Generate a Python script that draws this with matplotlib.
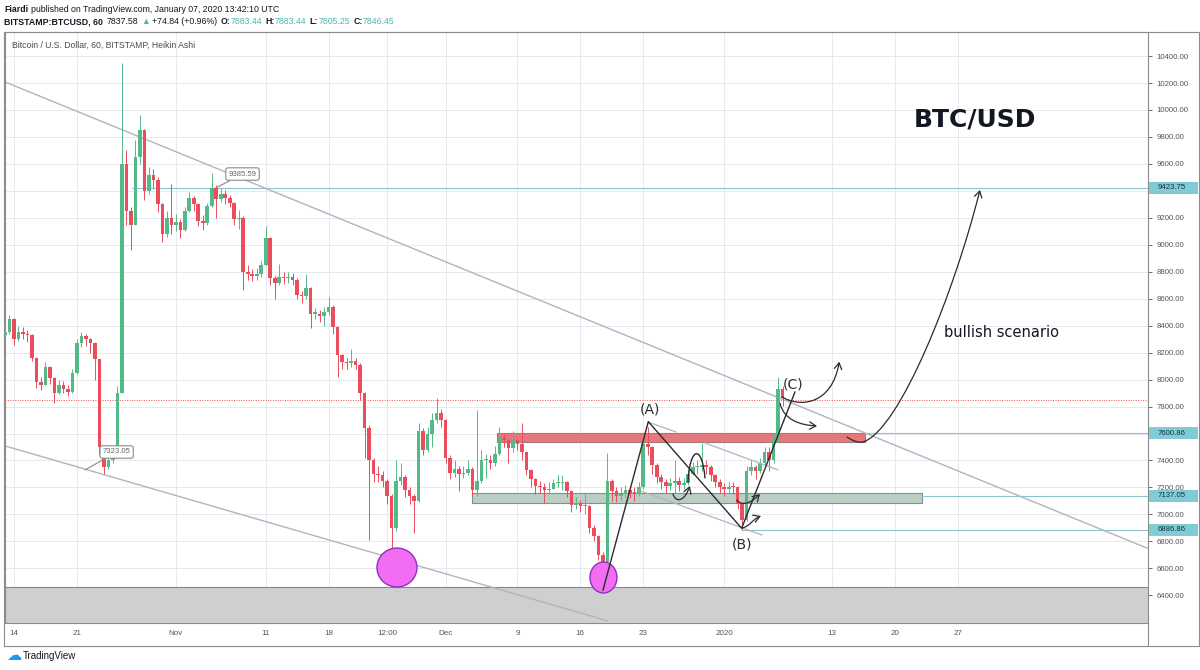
import numpy as np
import pandas as pd
import matplotlib.pyplot as plt
import matplotlib.transforms as mtransforms
from matplotlib.patches import Rectangle, Ellipse, FancyArrowPatch
from matplotlib.path import Path
from matplotlib.lines import Line2D

plt.rcParams['font.family'] = ['Liberation Sans', 'DejaVu Sans']

start = '2019-10-13'
first_open = 8330
closes = [
    8350, 8450, 8300, 8350, 8340, 8330, 8160, 7980, 7960, 8090,
    8010, 7900, 7960, 7930, 7910, 8050, 8270, 8320, 8300, 8270,
    8150, 7500, 7350, 7400, 7430, 7900, 9600, 9250, 9150, 9650,
    9850, 9400, 9520, 9480, 9300, 9080, 9200, 9150, 9170, 9110,
    9250, 9350, 9300, 9180, 9160, 9290, 9420, 9340, 9380, 9350,
    9310, 9190, 9200, 8800, 8780, 8770, 8780, 8850, 9050, 8750,
    8720, 8760, 8750, 8760, 8740, 8630, 8620, 8680, 8490, 8490,
    8470, 8500, 8540, 8390, 8180, 8130, 8120, 8140, 8110, 7900,
    7640, 7400, 7300, 7290, 7250, 7140, 6900, 7250, 7280, 7180,
    7140, 7100, 7620, 7480, 7600, 7700, 7750, 7700, 7420, 7310,
    7340, 7300, 7310, 7340, 7180, 7250, 7400, 7400, 7380, 7450,
    7570, 7550, 7490, 7550, 7520, 7460, 7330, 7260, 7210, 7206,
    7180, 7190, 7230, 7235, 7240, 7170, 7070, 7083, 7060, 7060,
    6900, 6840, 6700, 6650, 7250, 7170, 7140, 7155, 7180, 7160,
    7155, 7200, 7520, 7500, 7370, 7280, 7240, 7210, 7230, 7250,
    7220, 7230, 7300, 7350, 7350, 7370, 7355, 7290, 7240, 7205,
    7185, 7205, 7200, 7080, 6960, 7320, 7350, 7320, 7380, 7460,
    7400, 7550, 7930, 7860,
]
highs = [
    8420, 8480, 8460, 8400, 8390, 8370, 8340, 8170, 8020, 8130,
    8100, 8020, 8000, 7990, 7960, 8080, 8300, 8350, 8340, 8310,
    8280, 8150, 7500, 7440, 7480, 7950, 10350, 9700, 9280, 9780,
    9960, 9860, 9580, 9560, 9500, 9310, 9250, 9450, 9230, 9190,
    9280, 9390, 9360, 9310, 9220, 9310, 9530, 9440, 9420, 9410,
    9370, 9320, 9260, 9210, 8850, 8820, 8830, 8880, 9140, 9060,
    8770, 8860, 8800, 8800, 8790, 8750, 8660, 8780, 8690, 8530,
    8520, 8540, 8610, 8550, 8400, 8190, 8160, 8230, 8160, 8120,
    7910, 7660, 7420, 7360, 7320, 7260, 7150, 7400, 7380, 7290,
    7200, 7150, 7680, 7640, 7650, 7750, 7863, 7780, 7710, 7440,
    7400, 7360, 7360, 7400, 7350, 7775, 7480, 7450, 7440, 7510,
    7650, 7600, 7560, 7620, 7570, 7680, 7470, 7340, 7270, 7250,
    7230, 7240, 7260, 7290, 7290, 7250, 7180, 7130, 7110, 7160,
    7070, 6920, 6850, 6720, 7456, 7260, 7200, 7200, 7220, 7210,
    7200, 7240, 7560, 7650, 7510, 7380, 7300, 7260, 7270, 7400,
    7280, 7270, 7340, 7390, 7400, 7530, 7400, 7370, 7300, 7260,
    7230, 7240, 7240, 7210, 7090, 7360, 7400, 7370, 7420, 7500,
    7500, 7600, 8020, 7950,
]
lows = [
    8300, 8340, 8260, 8290, 8300, 8280, 8140, 7940, 7920, 7960,
    7970, 7830, 7890, 7900, 7880, 7900, 8040, 8240, 8250, 8200,
    8000, 7450, 7300, 7340, 7380, 7420, 7900, 9150, 8960, 9150,
    9600, 9330, 9380, 9420, 9240, 9020, 9060, 9080, 9100, 9050,
    9100, 9240, 9250, 9140, 9110, 9150, 9280, 9200, 9320, 9300,
    9280, 9150, 9120, 8665, 8740, 8730, 8740, 8760, 8840, 8700,
    8600, 8700, 8710, 8720, 8700, 8600, 8570, 8600, 8380, 8450,
    8430, 8400, 8480, 8340, 8020, 8080, 8080, 8090, 8080, 7850,
    7420, 6810, 7240, 7240, 7200, 7080, 6528, 6880, 7220, 7130,
    7080, 6860, 7090, 7440, 7460, 7500, 7680, 7650, 7380, 7260,
    7280, 7170, 7270, 7290, 7140, 7140, 7230, 7270, 7340, 7360,
    7440, 7500, 7380, 7460, 7480, 7400, 7290, 7200, 7150, 7160,
    7083, 7150, 7190, 7200, 7180, 7130, 7020, 7040, 7020, 7000,
    6860, 6800, 6660, 6460, 6650, 7100, 7090, 7110, 7130, 7120,
    7100, 7140, 7190, 7440, 7300, 7230, 7190, 7160, 7180, 7160,
    7170, 7190, 7220, 7290, 7300, 7320, 7300, 7250, 7200, 7160,
    7140, 7160, 7150, 7040, 6887, 6950, 7290, 7260, 7310, 7370,
    7320, 7380, 7540, 7805,
]
last_price = 7846.45

tick_dates = ['2019-10-14', '2019-10-21', '2019-11-01', '2019-11-11', '2019-11-18',
              '2019-11-24 12:00', '2019-12-01', '2019-12-09', '2019-12-16',
              '2019-12-23', '2020-01-01', '2020-01-13', '2020-01-20', '2020-01-27']
tick_labels = ['14', '21', 'Nov', '11', '18', '12:00', 'Dec', '9', '16', '23',
               '2020', '13', '20', '27']

# horizontal price levels marked on the right scale
level_prices = [9423.75, 7600.86, 7137.05, 6886.86]
level_from = [13.1, 94.7, 101.0, 81.0]   # days after Oct 14 where the ray starts

assert len(closes) == len(highs) == len(lows)

origin = pd.Timestamp('2019-10-14')
def day(ts):
    return (pd.to_datetime(ts) - origin) / pd.Timedelta(days=1)

t = np.asarray(day(pd.date_range(start, periods=len(closes), freq='12h')), dtype=float)
c = np.array(closes, dtype=float)
o = np.concatenate([[first_open], c[:-1]])
hi = np.array(highs, dtype=float)
lo = np.array(lows, dtype=float)

W, H = 1200, 670
fig = plt.figure(figsize=(12, 6.7), dpi=100)
ax = fig.add_axes([5 / W, 1 - 623 / H, 1143 / W, 591 / H])
ax.set_xlim(-1.0, 126.14)
ax.set_ylim(6194.4, 10578.6)

GRID = '#e6e9ef'
FRAME = '#8c8c8c'
GREEN = '#53b987'
RED = '#eb4d5c'
INK = '#2b2b2b'

# axes styling
ax.set_axisbelow(True)
ax.set_xticks([day(d) for d in tick_dates], tick_labels)
yt = np.arange(6400, 10401, 200)
# the 9400 and 7600 labels sit under the level boxes on the scale
ax.set_yticks(yt, ['' if v in (9400, 7600) else f'{v:.2f}' for v in yt])
ax.yaxis.tick_right()
ax.tick_params(axis='x', direction='in', length=3, pad=5, labelsize=5.8,
               colors='#555555', width=0.6)
ax.tick_params(axis='y', direction='out', length=3, pad=3, labelsize=5.6,
               colors='#555555', width=0.6)
ax.grid(True, color=GRID, lw=0.7)
for s in ax.spines.values():
    s.set_color(FRAME)
    s.set_linewidth(0.8)

# grey support zone at the bottom
ax.add_patch(Rectangle((-1.0, 6194.4), 127.2, 6460 - 6194.4, fc='#cfcfcf', ec='none', zorder=1))
ax.axhline(6460, color='#5f9f78', lw=0.8, zorder=1.1)

# boxes drawn on the chart
ax.add_patch(Rectangle((53.7, 7540), 94.7 - 53.7, 7607 - 7540, fc='#e8777b', ec='#9a7c7c',
                       lw=0.8, zorder=2))
ax.add_patch(Rectangle((50.9, 7085), 101.0 - 50.9, 7160 - 7085, fc='#bccdc3', ec='#6f9a83',
                       lw=0.8, zorder=2))

# price level rays
for p, x0 in zip(level_prices, level_from):
    ax.plot([x0, 126.14], [p, p], color='#8ec3d6', lw=0.8, zorder=2.2)

# last price line
ax.axhline(last_price, color='#ef5350', lw=0.7, ls=(0, (1, 1.5)), zorder=2.1)

# trend lines
ax.plot([-1.0, 126.14], [10208, 6747], color='#b3b3c0', lw=1.0, zorder=2.3)
ax.plot([-1.0, 65.96], [7508, 6212], color='#b3b3c0', lw=1.0, zorder=2.3)

# candles
cols = np.where(c >= o, GREEN, RED)
ax.vlines(t, lo, hi, colors=cols, lw=0.7, zorder=3)
ax.bar(t, np.maximum(np.abs(c - o), 8), bottom=np.minimum(o, c), width=0.4,
       color=cols, linewidth=0, zorder=3.1)

# pink circles at the two lows
ax.add_patch(Ellipse((42.6, 6606), 4.45, 289, fc='#f26df2', ec='#8e2fc4', lw=1.0, zorder=4))
ax.add_patch(Ellipse((65.57, 6532), 3.0, 230, fc='#f26df2', ec='#8e2fc4', lw=1.0, zorder=4))

# small channel lines around the (B) leg
for xs, ys in [([70.52, 73.64], [7686, 7611]),
               ([76.86, 84.98], [7530, 7330]),
               ([69.41, 83.20], [7181, 6847])]:
    ax.plot(xs, ys, color='#b3b5bd', lw=0.9, zorder=4)

# A-B-C wave
ax.plot([65.52, 70.56, 80.94, 86.87], [6439, 7688, 6897, 7908], color=INK, lw=1.0, zorder=5)
ax.text(70.75, 7775, '(A)', fontsize=10, ha='center', va='center', color=INK,
        family='DejaVu Sans', zorder=6)
ax.text(80.94, 6778, '(B)', fontsize=10, ha='center', va='center', color=INK,
        family='DejaVu Sans', zorder=6)
ax.text(86.65, 7967, '(C)', fontsize=10, ha='center', va='center', color=INK,
        family='DejaVu Sans', zorder=6)


def bezier(pts):
    return Path(pts, [Path.MOVETO] + [Path.CURVE4] * (len(pts) - 1))


ax.add_patch(FancyArrowPatch(path=bezier([(74.97, 7240), (75.19, 7508), (76.53, 7522), (76.86, 7270)]),
                             arrowstyle='-', color=INK, lw=1.0, zorder=5))
arrow_curves = [
    [(73.30, 7151), (73.64, 7085), (74.53, 7092), (75.19, 7211)],
    [(80.42, 7107), (80.87, 7062), (81.87, 7077), (82.98, 7151)],
    [(80.98, 6899), (81.76, 6907), (82.20, 6966), (83.09, 6988)],
    [(85.40, 7873), (87.43, 7789), (90.99, 7812), (91.80, 8133)],
    [(85.21, 7824), (85.65, 7700), (87.43, 7663), (89.32, 7656)],
    [(92.66, 7574), (93.33, 7545), (93.88, 7530), (94.44, 7537),
     (98.55, 7626), (104.67, 8665), (107.45, 9407)],
]
for pts in arrow_curves:
    ax.add_patch(FancyArrowPatch(path=bezier(pts), arrowstyle='->,head_length=0.5,head_width=0.3',
                                 mutation_scale=9, color=INK, lw=0.9, zorder=5))

# price callouts
for txt, tip, box in [('9385.59', (22.02, 9407), (25.42, 9525)),
                      ('7323.05', (7.90, 7330), (11.42, 7463))]:
    ax.annotate(txt, xy=tip, xytext=box, fontsize=5.6, color='#666666', ha='center', va='center',
                bbox=dict(boxstyle='round,pad=0.35,rounding_size=0.3', fc='white', ec='#8a8a8a', lw=0.8),
                arrowprops=dict(arrowstyle='-', color='#8a8a8a', lw=0.8, shrinkA=0, shrinkB=0),
                zorder=6)

ax.text(106.9, 9926, 'BTC/USD', fontsize=18, fontweight='bold', family='DejaVu Sans',
        ha='center', va='center', color='#131722')
ax.text(103.45, 8353, 'bullish scenario', fontsize=10.5, family='DejaVu Sans',
        ha='left', va='center', color='#131722')

# value boxes on the price scale
blend = mtransforms.blended_transform_factory(ax.transAxes, ax.transData)
for p in level_prices:
    ax.add_patch(Rectangle((1.0009, p - 45), 0.043, 90, transform=blend, fc='#80cbd7', ec='none',
                           clip_on=False, zorder=7))
    ax.text(1.0085, p, f'{p:.2f}', transform=blend, fontsize=5.6, color='#16323d',
            ha='left', va='center', clip_on=False, zorder=8)

ax.text(7 / 1143, 10578.6 - (45 - 32) * 7.418, 'Bitcoin / U.S. Dollar, 60, BITSTAMP, Heikin Ashi',
        transform=blend, fontsize=6.2, color='#4a4a4a', ha='left', va='center')

# outer frame of the snapshot
fig.add_artist(Rectangle((4 / W, 1 - 646 / H), 1195 / W, 614 / H, transform=fig.transFigure,
                         fill=False, ec=FRAME, lw=0.8))
fig.add_artist(Line2D([1148 / W, 1148 / W], [1 - 623 / H, 1 - 646 / H], transform=fig.transFigure,
                      color=FRAME, lw=0.8))

# header lines
renderer = fig.canvas.get_renderer()


def runs(x_px, y_px, pieces, size):
    x = x_px
    for s, color, weight, gap in pieces:
        tx = fig.text(x / W, 1 - y_px / H, s, fontsize=size, color=color, fontweight=weight,
                      ha='left', va='center')
        x += tx.get_window_extent(renderer).width + gap


TEAL = '#4db6ac'
runs(4, 9, [('Fiardi', '#131722', 'bold', 2.5),
            ('published on TradingView.com, January 07, 2020 13:42:10 UTC', '#131722', 'normal', 0)], 6.3)
runs(4, 22, [('BITSTAMP:BTCUSD, 60', '#131722', 'bold', 4),
             ('7837.58', '#131722', 'normal', 2.5),
             ('\u25b2', TEAL, 'normal', 2.5),
             ('+74.84 (+0.96%)', '#131722', 'normal', 3),
             ('O:', '#131722', 'bold', 0.5), ('7883.44', TEAL, 'normal', 3),
             ('H:', '#131722', 'bold', 0.5), ('7883.44', TEAL, 'normal', 3),
             ('L:', '#131722', 'bold', 0.5), ('7805.25', TEAL, 'normal', 3),
             ('C:', '#131722', 'bold', 0.5), ('7846.45', TEAL, 'normal', 0)], 6.3)

# footer logo
fig.text(6 / W, 1 - 656 / H, '\u2601', fontsize=11, color='#2196f3', family='DejaVu Sans',
         ha='left', va='center')
fig.text(23 / W, 1 - 656 / H, 'TradingView', fontsize=7, color='#131722', ha='left', va='center')

fig.savefig('out.png', dpi=100)
